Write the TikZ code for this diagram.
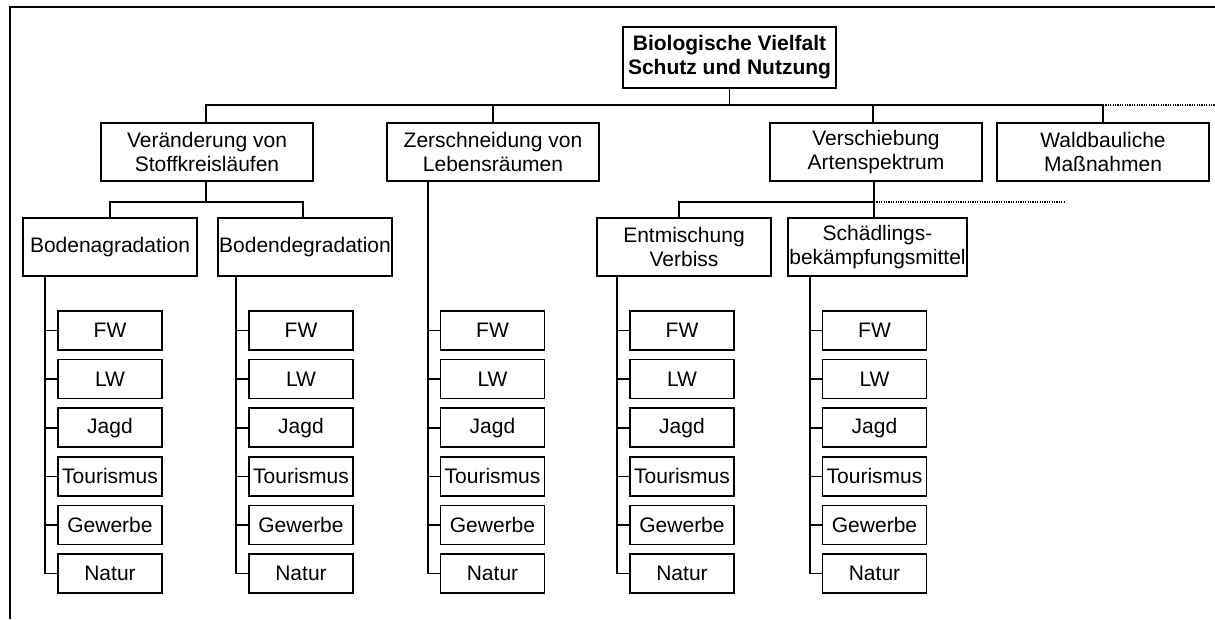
\documentclass[tikz,border=0pt]{standalone}
\usepackage{fontspec}
\setmainfont{Liberation Sans}
\newcommand\leafcol[3]{%
  \foreach \t/\n [count=\i from 0] in {FW/a,LW/b,Jagd/c,Tourismus/d,Gewerbe/e,Natur/f} {
    \node[leaf] (#1\n) at (#2, 330.5+48.6*\i) {\t};
    \draw[conn] (#1\n.west) -- ++(-12,0);
  }
  \draw[conn] ([xshift=-12pt]#1a.west |- #3.south) -- ([xshift=-12pt]#1f.west) -- (#1f.west);
}
\begin{document}
\begin{tikzpicture}[x=1pt,y=-1pt,
  base/.style={draw, line width=1.6pt, inner sep=0pt, align=center,
    font=\fontsize{21}{24}\selectfont},
  rootbox/.style={base, minimum width=213pt, minimum height=61pt},
  lone/.style={base, minimum width=212pt, minimum height=58pt},
  ltwo/.style={base, minimum width=174pt, minimum height=58pt},
  leaf/.style={base, minimum width=104pt, minimum height=39pt},
  conn/.style={line width=1.6pt},
  dots/.style={line width=1.3pt, dash pattern=on 1.2pt off 1.2pt},
  frameline/.style={line width=1.6pt}]
\fill[white] (0,0) rectangle (1215,619);
\useasboundingbox (0,0) rectangle (1215,619);
\draw[frameline] (10,619) -- (10,7) -- (1215,7);

\coordinate (bus) at (0,105);
\coordinate (sub) at (0,202);
\coordinate (busend) at (1215,105);
\coordinate (subend) at (1065,202);

\node[rootbox] (root) at (729.5,57.5) {\textbf{Biologische Vielfalt}\\\textbf{Schutz und Nutzung}};
\node[lone] (va) at (207,152) {Veränderung von\\Stoffkreisläufen};
\node[lone] (ze) at (493,152) {Zerschneidung von\\Lebensräumen};
\node[lone] (vs) at (876,152) {Verschiebung\\Artenspektrum};
\node[lone] (wm) at (1103,152) {Waldbauliche\\Maßnahmen};

\draw[conn] (root.south) -- (root.south |- bus);
\draw[conn] ([xshift=-1pt]va.north) |- (wm.north |- bus) -- (wm.north);
\draw[conn] (ze.north) -- (ze.north |- bus);
\draw[conn] ([xshift=-3pt]vs.north) -- ([xshift=-3pt]vs.north |- bus);
\draw[dots] (wm.north |- bus) -- (busend);

\node[ltwo] (ba) at (110,247) {Bodenagradation};
\node[ltwo] (bd) at (305,247) {Bodendegradation};
\node[ltwo] (em) at (684,247) {Entmischung\\Verbiss};
\node[ltwo, minimum width=179pt] (sb) at (877.5,247) {Schädlings-\\bekämpfungsmittel};

\draw[conn] ([xshift=-1pt]va.south) -- ([xshift=-1pt]va.south |- sub);
\draw[conn] (ba.north) |- ([xshift=-2pt]bd.north |- sub) -- ([xshift=-2pt]bd.north);
\draw[conn] ([xshift=-2pt]vs.south) -- ([xshift=-2pt]vs.south |- sb.north);
\draw[conn] ([xshift=-5pt]em.north) |- ([xshift=-2pt]vs.south |- sub);
\draw[dots] ([xshift=-2pt]vs.south |- sub) -- (subend);

\leafcol{ba}{110}{ba}
\leafcol{bd}{301}{bd}
\leafcol{ze}{492.5}{ze}
\leafcol{em}{682}{em}
\leafcol{sb}{874.5}{sb}
\end{tikzpicture}
\end{document}
